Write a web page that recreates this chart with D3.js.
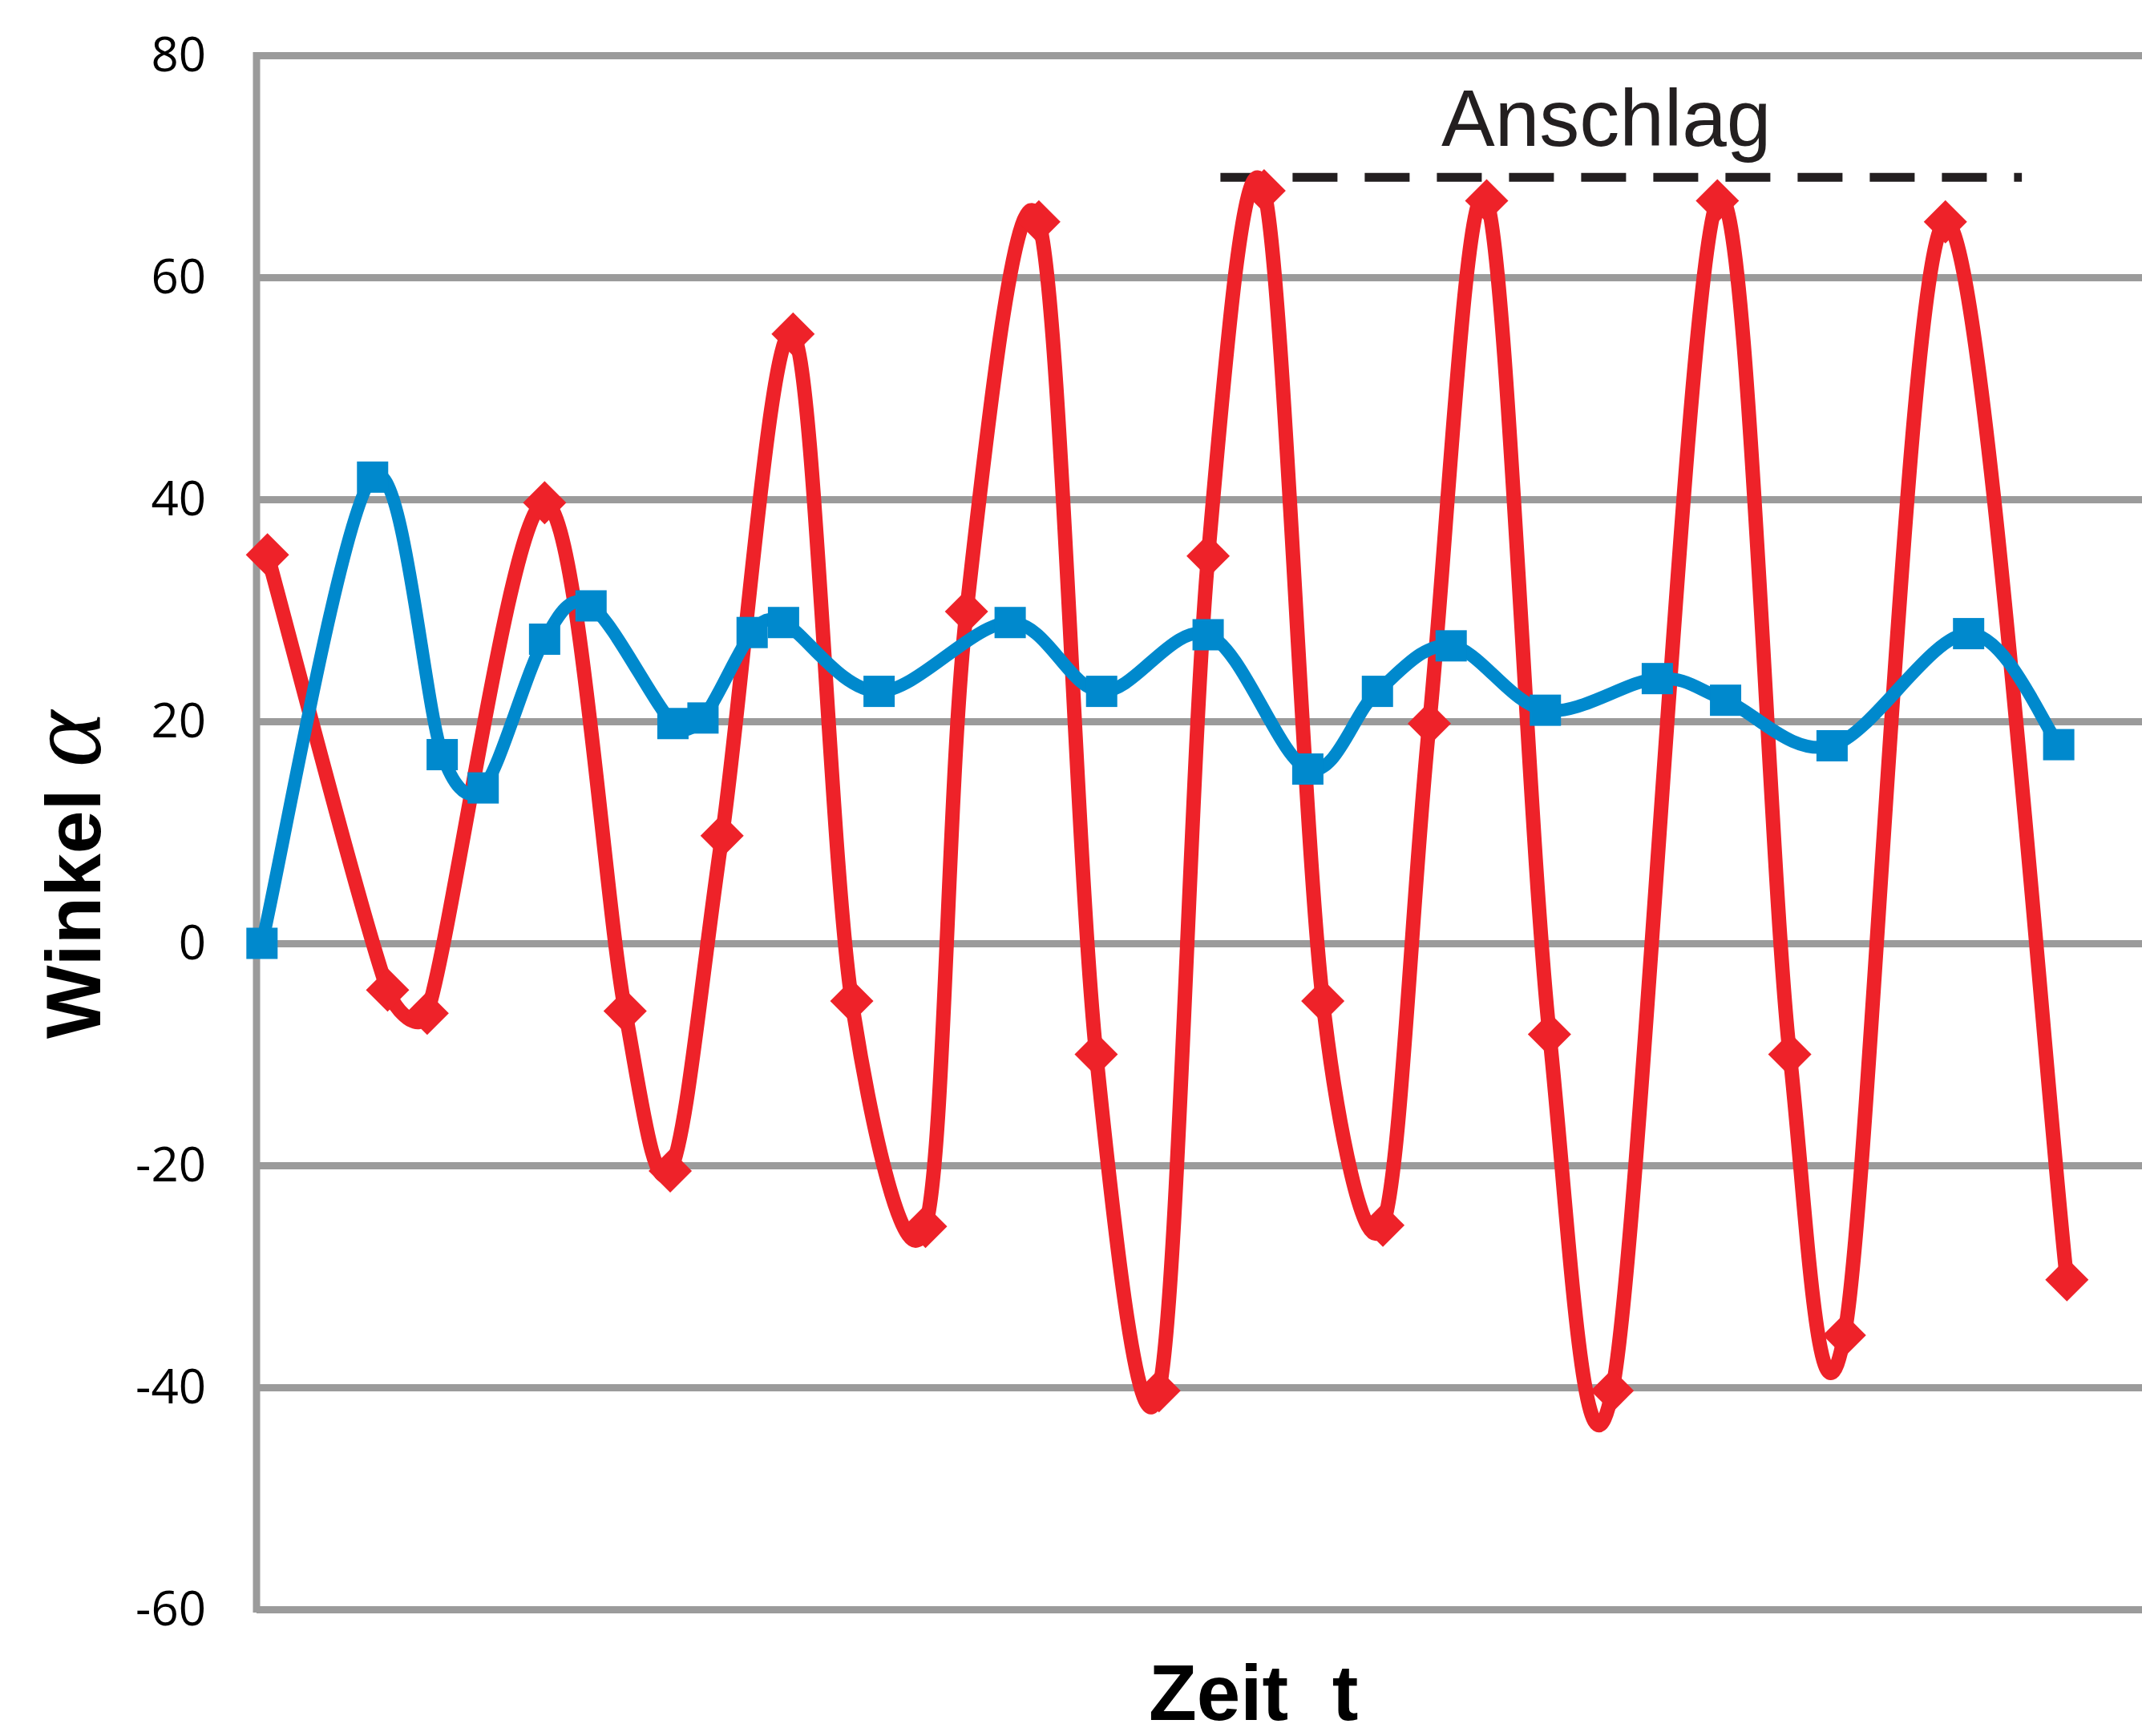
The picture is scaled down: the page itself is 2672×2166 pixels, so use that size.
<!DOCTYPE html>
<html>
<head>
<meta charset="utf-8">
<script src="https://cdn.jsdelivr.net/npm/d3@7"></script>
<style>
  html, body { margin: 0; padding: 0; background: #fff; }
  svg { display: block; }
</style>
</head>
<body>
<div id="container"></div>
<script>
// Zeit t (arbitrary units) and Winkel alpha
var redTime  = [0.8, 9.6, 12.5, 21.1, 27.0, 30.3, 34.1, 39.3, 43.6, 49.0, 52.0, 57.3, 61.5, 66.1,
                69.7, 73.8, 78.1, 82.5, 85.9, 90.1, 94.7, 99.3, 107.0, 112.3, 116.3, 123.7, 132.6];
var redAngle = [35, -4.2, -6.3, 39.7, -6.1, -20.5, 9.7, 54.9, -5.2, -25.5, 29.9, 65, -10, -40.3,
                34.9, 67.8, -5.2, -25.4, 19.8, 66.9, -8.2, -40.3, 66.9, -10, -35.3, 65, -30.3];

var blueTime  = [0.4, 8.5, 13.6, 16.6, 21.1, 24.5, 30.5, 32.7, 36.3, 38.6, 45.6, 55.2, 61.9,
                 69.7, 77.0, 82.1, 87.5, 94.4, 102.6, 107.6, 115.4, 125.4, 132.0];
var blueAngle = [0, 42, 17, 14, 27.4, 30.4, 19.8, 20.3, 28.0, 28.9, 22.7, 28.9, 22.7,
                 27.8, 15.7, 22.7, 26.8, 21.0, 23.85, 21.9, 17.8, 27.9, 17.9];

var yTicks = [-60, -40, -20, 0, 20, 40, 60, 80];

// Anschlag (stop) line
var anschlagValue = 69;
var anschlagFrom = 70.6, anschlagTo = 129.3;

var W = 2672, H = 2166;
var margin = {left: 320, top: 69, bottom: 2008};

var svg = d3.select("div#container").append("svg").attr("width", W).attr("height", H);
svg.append("rect").attr("width", W).attr("height", H).attr("fill", "#fff");

var xScale = d3.scaleLinear().domain([0, 138.1]).range([margin.left, W]);
var yScale = d3.scaleLinear().domain([-60, 80]).range([margin.bottom, margin.top]);

// horizontal grid lines
svg.append("g")
   .attr("transform", "translate(" + margin.left + ",0)")
   .call(d3.axisLeft(yScale).tickValues(yTicks).tickSize(-(W - margin.left)).tickFormat(""))
   .call(function(g) { g.select(".domain").remove(); })
   .selectAll("line")
     .attr("stroke", "#9b9b9b")
     .attr("stroke-width", 9);

// left axis line
svg.append("line")
   .attr("x1", margin.left).attr("x2", margin.left)
   .attr("y1", yScale(80) - 4).attr("y2", yScale(-60) + 4)
   .attr("stroke", "#9b9b9b")
   .attr("stroke-width", 9);

// tick labels (plain hyphen like the original)
var yAxis = svg.append("g")
   .attr("transform", "translate(257,0)")
   .call(d3.axisLeft(yScale).tickValues(yTicks).tickSize(0).tickPadding(0)
           .tickFormat(function(d) { return String(d); }));
yAxis.select(".domain").remove();
yAxis.selectAll("text")
     .attr("font-family", "'Open Sans', sans-serif")
     .attr("font-size", 60)
     .attr("fill", "#000");

// Anschlag
svg.append("line")
   .attr("x1", xScale(anschlagFrom)).attr("x2", xScale(anschlagTo))
   .attr("y1", yScale(anschlagValue)).attr("y2", yScale(anschlagValue))
   .attr("stroke", "#231f20")
   .attr("stroke-width", 11)
   .attr("stroke-dasharray", "56 34");

svg.append("text")
   .attr("x", 1798).attr("y", 182)
   .attr("font-family", "'Liberation Sans', Arial, sans-serif")
   .attr("font-size", 100)
   .attr("fill", "#231f20")
   .text("Anschlag");

// smoothed line like a spreadsheet: bezier through the points,
// control arm = chord/6 but never more than half the segment
function smoothPath(data) {
  var p = data.map(function(d) { return [xScale(d[0]), yScale(d[1])]; });
  var path = d3.path();
  function dist(a, b) { return Math.hypot(b[0] - a[0], b[1] - a[1]); }
  path.moveTo(p[0][0], p[0][1]);
  for (var i = 0; i < p.length - 1; i++) {
    var p0 = p[Math.max(i - 1, 0)], p1 = p[i], p2 = p[i + 1], p3 = p[Math.min(i + 2, p.length - 1)];
    var d12 = dist(p1, p2), d02 = dist(p0, p2), d13 = dist(p1, p3);
    var f1 = d02 > 0 ? Math.min(1 / 6, d12 / (2 * d02)) : 0;
    var f2 = d13 > 0 ? Math.min(1 / 6, d12 / (2 * d13)) : 0;
    path.bezierCurveTo(p1[0] + (p2[0] - p0[0]) * f1, p1[1] + (p2[1] - p0[1]) * f1,
                       p2[0] - (p3[0] - p1[0]) * f2, p2[1] - (p3[1] - p1[1]) * f2,
                       p2[0], p2[1]);
  }
  return path.toString();
}

var red = d3.zip(redTime, redAngle),
    blue = d3.zip(blueTime, blueAngle);

// red series with diamonds
svg.append("path")
   .datum(red)
   .attr("d", smoothPath)
   .attr("fill", "none")
   .attr("stroke", "#ee2229")
   .attr("stroke-width", 18)
   .attr("stroke-linejoin", "round");

var dia = 27;
svg.append("g").selectAll("path")
   .data(red)
   .enter().append("path")
   .attr("transform", function(d) { return "translate(" + xScale(d[0]) + "," + yScale(d[1]) + ")"; })
   .attr("d", "M0," + (-dia) + "L" + dia + ",0L0," + dia + "L" + (-dia) + ",0Z")
   .attr("fill", "#ee2229");

// blue series with squares
svg.append("path")
   .datum(blue)
   .attr("d", smoothPath)
   .attr("fill", "none")
   .attr("stroke", "#0089cd")
   .attr("stroke-width", 16)
   .attr("stroke-linejoin", "round");

var sq = 39;
svg.append("g").selectAll("rect")
   .data(blue)
   .enter().append("rect")
   .attr("x", function(d) { return xScale(d[0]) - sq / 2; })
   .attr("y", function(d) { return yScale(d[1]) - sq / 2; })
   .attr("width", sq).attr("height", sq)
   .attr("fill", "#0089cd");

// axis titles
var yt = svg.append("text")
   .attr("transform", "translate(125,1296) rotate(-90)")
   .attr("font-family", "'Liberation Sans', Arial, sans-serif")
   .attr("font-weight", "bold")
   .attr("font-size", 97)
   .attr("fill", "#000");
yt.append("tspan").text("Winkel ");
yt.append("tspan")
  .attr("font-family", "'Liberation Serif', serif")
  .attr("font-style", "italic")
  .attr("font-weight", "normal")
  .attr("font-size", 134)
  .text("α");

svg.append("text")
   .attr("x", 1433).attr("y", 2146)
   .attr("font-family", "'Liberation Sans', Arial, sans-serif")
   .attr("font-weight", "bold")
   .attr("font-size", 98)
   .attr("fill", "#000")
   .style("white-space", "pre")
   .text("Zeit  t");
</script>
</body>
</html>
